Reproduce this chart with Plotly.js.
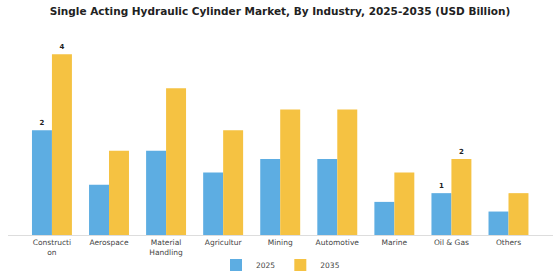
<!DOCTYPE html>
<html>
<head>
<meta charset="utf-8">
<script src="https://cdn.plot.ly/plotly-3.0.1.min.js"></script>
<style>html,body{margin:0;padding:0;background:#fff;}#chart{width:560px;height:280px;}</style>
</head>
<body>
<div id="chart"></div>
<script>
const categories = ["Constructi<br>on", "Aerospace", "Material<br>Handling", "Agricultur<br>e", "Mining", "Automotive", "Marine", "Oil & Gas", "Others"];
const values2025 = [2.28, 1.09, 1.83, 1.36, 1.65, 1.65, 0.72, 0.91, 0.51];
const values2035 = [3.93, 1.83, 3.19, 2.28, 2.73, 2.73, 1.36, 1.65, 0.91];
const labels2025 = ["<b>2</b>", "", "", "", "", "", "", "<b>1</b>", ""];
const labels2035 = ["<b>4</b>", "", "", "", "", "", "", "<b>2</b>", ""];

const textFont = {family: "DejaVu Sans", size: 7, color: "#222"};
const traces = [
  {type: "bar", name: "2025", x: categories, y: values2025, text: labels2025,
   textposition: "outside", textfont: textFont, cliponaxis: false,
   marker: {color: "#5DADE2"}, hoverinfo: "skip"},
  {type: "bar", name: "2035", x: categories, y: values2035, text: labels2035,
   textposition: "outside", textfont: textFont, cliponaxis: false,
   marker: {color: "#F5C242"}, hoverinfo: "skip"}
];

const layout = {
  width: 560, height: 280,
  margin: {l: 8, r: 7, t: 40, b: 45, autoexpand: false},
  paper_bgcolor: "#fff", plot_bgcolor: "#fff",
  title: {text: "<b>Single Acting Hydraulic Cylinder Market, By Industry, 2025-2035 (USD Billion)</b>",
          font: {family: "DejaVu Sans", size: 10.5, color: "#222"}, x: 0.5, xanchor: "center", y: 0.96, yanchor: "middle"},
  barmode: "group", bargap: 0.3, bargroupgap: 0,
  xaxis: {type: "category", range: [-0.77, 8.78], showline: true, linecolor: "#ddd", linewidth: 1, automargin: false,
          ticks: "", tickfont: {family: "DejaVu Sans", size: 7.5, color: "#444"}, showgrid: false, fixedrange: true},
  yaxis: {range: [0, 4.24], visible: false, showgrid: false, zeroline: false, fixedrange: true, automargin: false},
  showlegend: true,
  legend: {orientation: "h", x: 0.5, xanchor: "center", yref: "container", y: 0.054, yanchor: "middle",
           font: {family: "DejaVu Sans", size: 7.5, color: "#444"}, itemwidth: 30},
  font: {family: "DejaVu Sans"}
};

Plotly.newPlot("chart", traces, layout, {displayModeBar: false, staticPlot: true});
</script>
</body>
</html>
